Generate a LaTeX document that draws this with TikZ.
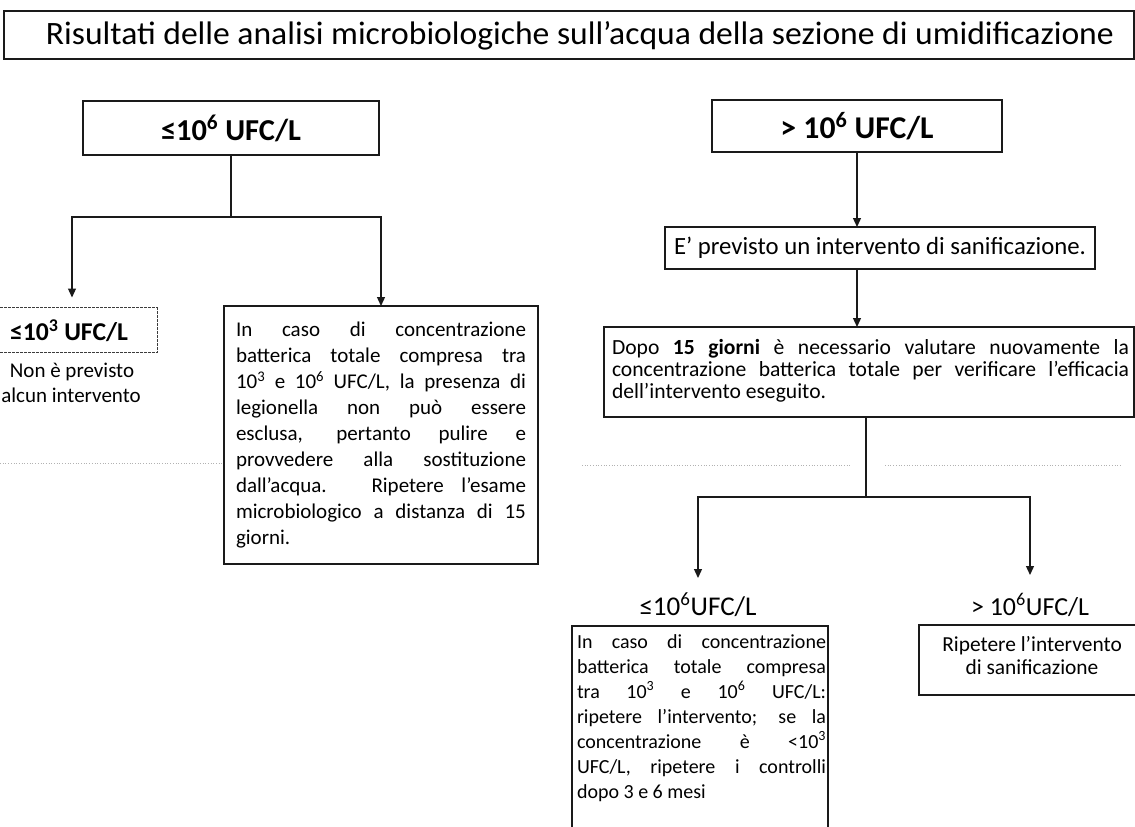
\documentclass[tikz,border=0pt]{standalone}
\usepackage{fontspec}
\setmainfont{Carlito}
\usetikzlibrary{arrows.meta}
\definecolor{ink}{HTML}{1A1A1A}
\begin{document}
\begin{tikzpicture}[x=1pt,y=-1pt,
  every node/.style={inner sep=0pt, outer sep=0pt, text=black, font=\fontsize{21}{25}\selectfont},
  frame/.style={draw=ink, line width=1.2pt},
  conn/.style={draw=ink, line width=1.3pt},
  arr/.style={conn, -{Triangle[length=9pt,width=8pt]}},
  faint/.style={draw=black!30, line width=0.7pt, dotted}]
\useasboundingbox (0,0) rectangle (1135,827);

% title
\node[frame, minimum width=1130pt, minimum height=48pt] (T) at (569,35) {};
\node (Tt) at (580,36) {\resizebox{1068pt}{23pt}{Risultati delle analisi microbiologiche sull’acqua della sezione di umidificazione}};

% left branch
\node[frame, minimum width=296pt, minimum height=54pt] (A) at (231,128)
  {\resizebox{140pt}{!}{\bfseries ≤10\textsuperscript{6} UFC/L}};
\node[minimum width=157pt, minimum height=45pt] (C) at (78.5,330) {};
\draw[draw=ink!85, line width=1pt, dash pattern=on 3pt off 1pt] (C.north west) -- (C.north east) -- (C.south east) -- (C.south west);
\node (Ct) at (69,331) {\resizebox{118pt}{!}{\bfseries ≤10\textsuperscript{3} UFC/L}};
\node (N1) at (72,372) {Non è previsto};
\node (N2) at (71,395) {alcun intervento};

\node[frame, minimum width=314pt, minimum height=258pt] (B) at (381,435) {\parbox{290pt}{\fontsize{21}{25.9}\selectfont
\makebox[290pt][s]{In caso di concentrazione}\\
\makebox[290pt][s]{batterica totale compresa tra}\\
\makebox[290pt][s]{10\textsuperscript{3} e 10\textsuperscript{6} UFC/L, la presenza di}\\
\makebox[290pt][s]{legionella non può essere}\\
\makebox[290pt][s]{esclusa, pertanto pulire e}\\
\makebox[290pt][s]{provvedere alla sostituzione}\\
\makebox[290pt][s]{dall’acqua. Ripetere l’esame}\\
\makebox[290pt][s]{microbiologico a distanza di 15}\\
giorni.}};

\path (A.south) ++(0,62) coordinate (ja);
\draw[conn] (A.south) -- (ja);
\draw[arr] (ja) -| ([xshift=-6.5pt,yshift=10pt]C.north);
\draw[arr] (ja) -| (B.north);

% right branch
\node[frame, minimum width=290pt, minimum height=52pt] (P) at (857,126)
  {\resizebox{153pt}{!}{\bfseries > 10\textsuperscript{6} UFC/L}};
\node[frame, minimum width=430pt, minimum height=42pt] (E) at (880,248)
  {\resizebox{412pt}{!}{E’ previsto un intervento di sanificazione.}};
\node[frame, minimum width=530pt, minimum height=90pt] (F) at (869,372) {};
\node (Ft) at (870.5,371) {\parbox{517pt}{\fontsize{21.6}{22}\selectfont\lineskiplimit=-20pt
\makebox[517pt][s]{Dopo \textbf{15 giorni} è necessario valutare nuovamente la}\\
\makebox[517pt][s]{concentrazione batterica totale per verificare l’efficacia}\\
dell’intervento eseguito.}};

\draw[arr] (P.south) -- (P.south |- E.north);
\draw[arr] (E.south -| P.south) -- (P.south |- F.north);

\coordinate (jf) at (866,497);
\draw[conn] (F.south -| jf) -- (jf);

\node (L1) at (698,605) {\resizebox{117pt}{!}{≤10\textsuperscript{6}UFC/L}};
\node (L2) at (1030,605) {\resizebox{118pt}{!}{> 10\textsuperscript{6}UFC/L}};
\draw[arr] (jf) -| ([yshift=27pt]L1.center);
\draw[arr] (jf) -| ([yshift=30pt]L2.center);

\node[minimum width=256pt, minimum height=201pt] (G) at (700,726.5) {};
\draw[frame] (G.south west) -- (G.north west) -- (G.north east) -- (G.south east);
\node (Gt) at (701.5,718) {\parbox{249pt}{\fontsize{20}{25}\selectfont\lineskiplimit=-20pt
\makebox[249pt][s]{In caso di concentrazione}\\
\makebox[249pt][s]{batterica totale compresa}\\
\makebox[249pt][s]{tra 10\textsuperscript{3} e 10\textsuperscript{6} UFC/L:}\\
\makebox[249pt][s]{ripetere l’intervento; se la}\\
\makebox[249pt][s]{concentrazione è <10\textsuperscript{3}}\\
\makebox[249pt][s]{UFC/L, ripetere i controlli}\\
dopo 3 e 6 mesi}};

\node[minimum width=216pt, minimum height=70pt] (H) at (1027,660) {};
\draw[frame] (H.north east) -- (H.north west) -- (H.south west) -- (H.south east);
\node[align=center, font=\fontsize{21.4}{23}\selectfont] (Ht) at (1032,656) {Ripetere l’intervento\\di sanificazione};

% faint scan lines
\draw[faint] (0,463) -- (224,463);
\draw[faint] (582,465) -- (850,465);
\draw[faint] (885,465) -- (1120,465);
\end{tikzpicture}
\end{document}
